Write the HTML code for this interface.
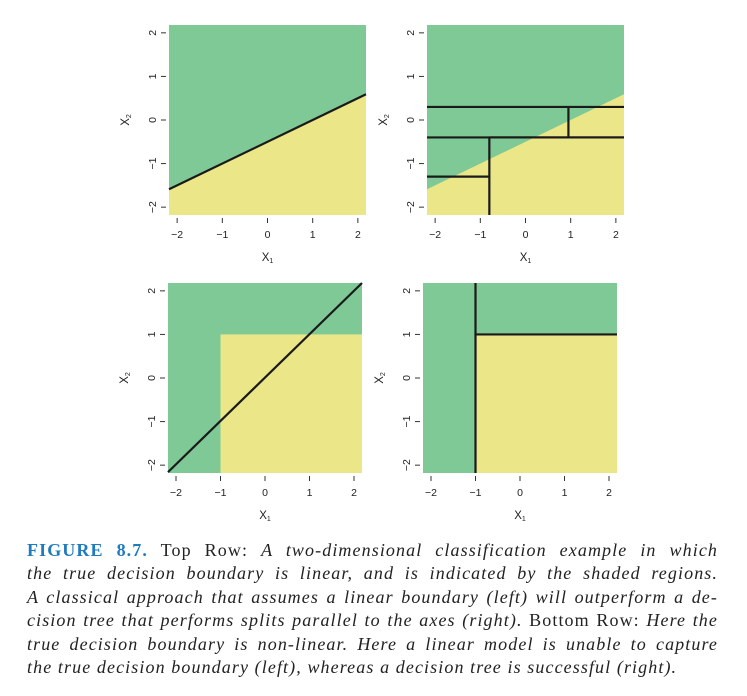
<!DOCTYPE html>
<html><head><meta charset="utf-8"><style>
body{margin:0;background:#fff;width:747px;height:696px;overflow:hidden;position:relative}
#cap{position:absolute;left:27px;top:539px;width:691px;font-family:"Liberation Serif",serif;font-size:18px;letter-spacing:1.1px;line-height:23.4px;color:#222}
#cap div{text-align:justify;text-align-last:justify;white-space:nowrap}
#cap div.last{text-align-last:left}
#cap .fig{color:#1f7bbf;font-weight:bold}
svg text{font-family:"Liberation Sans",sans-serif;fill:#222}
</style></head><body>
<svg id="chart" width="747" height="535" style="position:absolute;left:0;top:0"></svg>
<div id="cap">
<div style="white-space:normal"><span class="fig">FIGURE 8.7.</span> Top Row: <i>A two-dimensional classification example in which</i></div>
<div style="white-space:normal"><i>the true decision boundary is linear, and is indicated by the shaded regions.</i></div>
<div style="white-space:normal"><i>A classical approach that assumes a linear boundary (left) will outperform a de-</i></div>
<div style="white-space:normal"><i>cision tree that performs splits parallel to the axes (right).</i> Bottom Row: <i>Here the</i></div>
<div style="white-space:normal"><i>true decision boundary is non-linear. Here a linear model is unable to capture</i></div>
<div class="last"><i>the true decision boundary (left), whereas a decision tree is successful (right).</i></div>
</div>
<script>
const ticks=[-2,-1,0,1,2];
const tickLabels=["\u22122","\u22121","0","1","2"];
const lin1=[[-2.18,-1.59],[2.18,0.59]];
const treeH=[[-2.18,2.18,0.3],[-2.18,2.18,-0.4],[-2.18,-0.8,-1.3],[-0.8,2.18,-0.4]];
const treeV=[[0.95,-0.4,0.3],[-0.8,-2.18,-0.4]];
const lin2=[[-2.18,-2.16],[2.18,2.18]];
const truth2=[-1,1];
const tree2H=[[-1,2.18,1]];
const tree2V=[[-1,-2.18,2.18]];
const G="#7fc997",Y="#ebe687";
const svg=document.getElementById('chart');
const NS="http://www.w3.org/2000/svg";
function mk(t,a,p){const e=document.createElementNS(NS,t);for(const k in a)e.setAttribute(k,a[k]);(p||svg).appendChild(e);return e;}
function panel(x0,y0,w,h,name){
  const g=mk('g',{});
  
  
  const sx=v=>x0+(v+2.18)/4.36*w, sy=v=>y0+h-(v+2.18)/4.36*h;
  return {g,sx,sy,x0,y0,w,h};
}
function axes(s){
  const {g,sx,sy,x0,y0,w,h}=s;
  ticks.forEach((t,i)=>{
    const l=mk('line',{x1:sx(t),x2:sx(t),y1:y0+h+3,y2:y0+h+8,stroke:'#333','stroke-width':1},g);
    
    const tx=mk('text',{x:sx(t),y:y0+h+23,'font-size':10.5,'text-anchor':'middle'},g);tx.textContent=tickLabels[i];
    
    const l2=mk('line',{x1:x0-8,x2:x0-3,y1:sy(t),y2:sy(t),stroke:'#333','stroke-width':1},g);
    
    const ty=mk('text',{x:0,y:0,'font-size':10.5,'text-anchor':'middle',transform:`translate(${x0-13},${sy(t)}) rotate(-90)`},g);ty.textContent=tickLabels[i];
    
  });
  const xl=mk('text',{x:x0+w/2,y:y0+h+46,'font-size':11.5,'text-anchor':'middle'},g);
  xl.innerHTML='X<tspan font-size="7" dy="2">1</tspan>';
  
  const yl=mk('text',{x:0,y:0,'font-size':11.5,'text-anchor':'middle',transform:`translate(${x0-40},${y0+h/2}) rotate(-90)`},g);
  yl.innerHTML='X<tspan font-size="7" dy="2">2</tspan>';
  
}
function linTruth(s,L){
  const {g,sx,sy}=s;
  mk('rect',{x:s.x0,y:s.y0,width:s.w,height:s.h,fill:G},g);
  const p=mk('polygon',{points:`${sx(L[0][0])},${sy(L[0][1])} ${sx(L[1][0])},${sy(L[1][1])} ${sx(2.18)},${sy(-2.18)} ${sx(-2.18)},${sy(-2.18)}`,fill:Y},g);
  
}
function boxTruth(s){
  const {g,sx,sy}=s;
  mk('rect',{x:s.x0,y:s.y0,width:s.w,height:s.h,fill:G},g);
  const r=mk('rect',{x:sx(truth2[0]),y:sy(truth2[1]),width:sx(2.18)-sx(truth2[0]),height:sy(-2.18)-sy(truth2[1]),fill:Y},g);
  
}
function line(s,L,name){
  const l=mk('line',{x1:s.sx(L[0][0]),y1:s.sy(L[0][1]),x2:s.sx(L[1][0]),y2:s.sy(L[1][1]),stroke:'#1a1a1a','stroke-width':2.2},s.g);
  
}
function tree(s,H,V){
  H.forEach(d=>{const l=mk('line',{x1:s.sx(d[0]),x2:s.sx(d[1]),y1:s.sy(d[2]),y2:s.sy(d[2]),stroke:'#1a1a1a','stroke-width':2.2},s.g);
    });
  V.forEach(d=>{const l=mk('line',{x1:s.sx(d[0]),x2:s.sx(d[0]),y1:s.sy(d[1]),y2:s.sy(d[2]),stroke:'#1a1a1a','stroke-width':2.2},s.g);
    });
}
let p1=panel(169,25,197,190,'panel-top-left');linTruth(p1,lin1);line(p1,lin1,'linear-boundary');axes(p1);
let p2=panel(427,25,197,190,'panel-top-right');linTruth(p2,lin1);tree(p2,treeH,treeV);axes(p2);
let p3=panel(168,283,194,190,'panel-bottom-left');boxTruth(p3);line(p3,lin2,'linear-boundary');axes(p3);
let p4=panel(423,283,194,190,'panel-bottom-right');boxTruth(p4);tree(p4,tree2H,tree2V);axes(p4);
</script>
</body></html>
